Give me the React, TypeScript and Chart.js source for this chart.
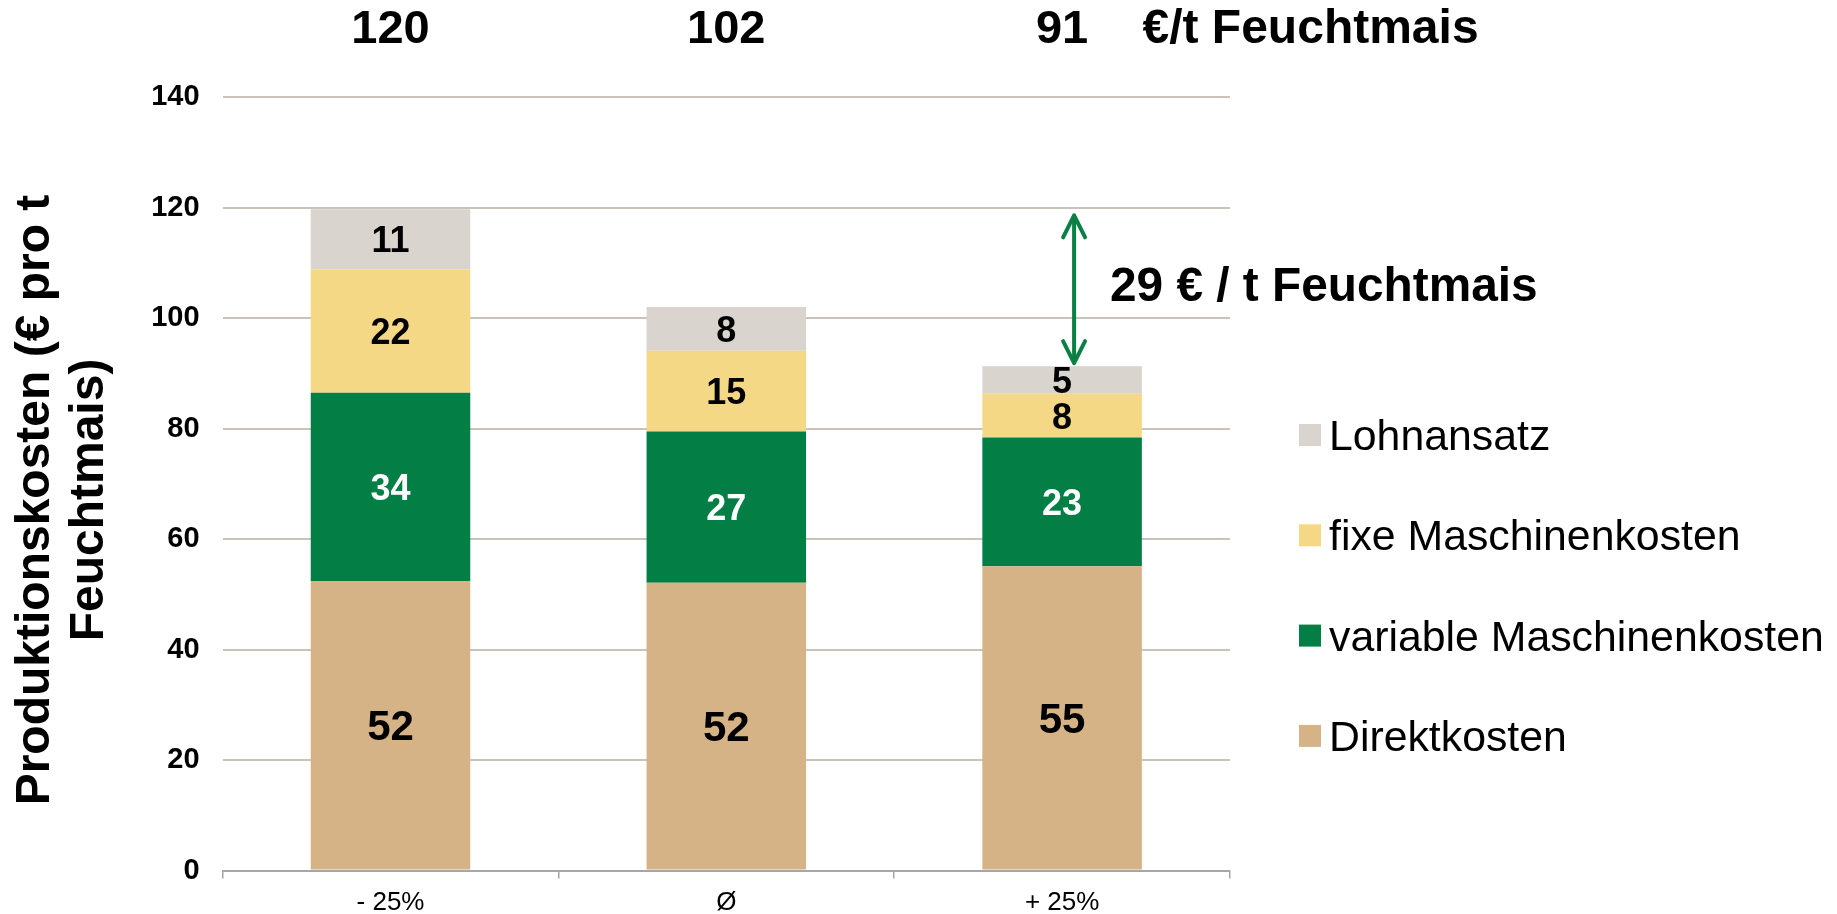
import React, { useEffect, useRef } from "react";
import { Chart, registerables } from "chart.js";

Chart.register(...registerables);

// ---------- data ----------
const categories = ["- 25%", "Ø", "+ 25%"];
const direktkosten = [52.4, 52.1, 55.1];
const variableMaschinenkosten = [34.1, 27.4, 23.3];
const fixeMaschinenkosten = [22.3, 14.6, 7.9];
const lohnansatz = [10.9, 7.9, 5.0];

const direktLabels = ["52", "52", "55"];
const variableLabels = ["34", "27", "23"];
const fixeLabels = ["22", "15", "8"];
const lohnLabels = ["11", "8", "5"];

const totalLabels = ["120", "102", "91"];
const unitLabel = "€/t Feuchtmais";
const differenceLabel = "29 € / t Feuchtmais";
const yTitle = ["Produktionskosten (€ pro t", "Feuchtmais)"];
const yMin = 0;
const yMax = 140;
const yStep = 20;

// ---------- styles ----------
const FONT = '"Liberation Sans", Arial, Helvetica, sans-serif';
const COLORS = {
  direkt: "#D5B387",
  variable: "#037F46",
  fixe: "#F5D886",
  lohn: "#D9D4CD",
  grid: "#CBC2B8",
  axis: "#A6A6A6",
  arrow: "#0B8045",
};
const W = 1821;
const H = 906;

const overlayPlugin = {
  id: "overlay",
  afterDatasetsDraw(chart: any) {
    const ctx = chart.ctx;
    ctx.save();
    // segment labels
    chart.data.datasets.forEach((ds: any, di: number) => {
      const meta = chart.getDatasetMeta(di);
      meta.data.forEach((el: any, i: number) => {
        const p = el.getProps(["x", "y", "base"], true);
        const size = ds.labelSize;
        ctx.font = `bold ${size}px ${FONT}`;
        ctx.fillStyle = ds.labelColor;
        ctx.textAlign = "center";
        ctx.textBaseline = "alphabetic";
        ctx.fillText(ds.valueLabels[i], p.x, (p.y + p.base) / 2 + size * 0.358);
      });
    });

    // totals above the bars
    const topMeta = chart.getDatasetMeta(chart.data.datasets.length - 1);
    ctx.font = `bold 47px ${FONT}`;
    ctx.fillStyle = "#000";
    ctx.textAlign = "center";
    ctx.textBaseline = "alphabetic";
    topMeta.data.forEach((el: any, i: number) => {
      ctx.fillText(totalLabels[i], el.x, 34.5);
    });
    ctx.font = `bold 48px ${FONT}`;
    ctx.textAlign = "left";
    ctx.fillText(unitLabel, 1134.5, 34.5);

    // difference arrow between first and last totals
    const yScale = chart.scales.y;
    const sumAt = (i: number) =>
      chart.data.datasets.reduce((s: number, d: any) => s + d.data[i], 0);
    const last = topMeta.data.length - 1;
    const ax = topMeta.data[last].x + 12;
    const yTop = yScale.getPixelForValue(sumAt(0)) + 6;
    const yBot = yScale.getPixelForValue(sumAt(last)) - 3;
    ctx.strokeStyle = COLORS.arrow;
    ctx.lineWidth = 4;
    ctx.lineCap = "round";
    ctx.lineJoin = "round";
    ctx.beginPath();
    ctx.moveTo(ax, yTop + 2);
    ctx.lineTo(ax, yBot - 2);
    ctx.stroke();
    ctx.beginPath();
    ctx.moveTo(ax - 11, yTop + 22);
    ctx.lineTo(ax, yTop);
    ctx.lineTo(ax + 11, yTop + 22);
    ctx.moveTo(ax - 11, yBot - 22);
    ctx.lineTo(ax, yBot);
    ctx.lineTo(ax + 11, yBot - 22);
    ctx.stroke();

    ctx.font = `bold 47.8px ${FONT}`;
    ctx.fillStyle = "#000";
    ctx.textAlign = "left";
    ctx.fillText(differenceLabel, 1102, 292.7);

    // legend (reversed order)
    const dsRev = [...chart.data.datasets].reverse();
    ctx.font = `42.8px ${FONT}`;
    dsRev.forEach((d: any, i: number) => {
      const cy = 427 + i * 100.3;
      ctx.fillStyle = d.backgroundColor;
      ctx.fillRect(1291, cy - 11, 22, 22);
      ctx.fillStyle = "#000";
      ctx.fillText(d.label, 1321, cy + 15);
    });

    // y-axis title
    ctx.font = `bold 48px ${FONT}`;
    ctx.textAlign = "center";
    const cyTitle = 492;
    const xs = [41, 95];
    yTitle.forEach((line, i) => {
      ctx.save();
      ctx.translate(xs[i], cyTitle);
      ctx.rotate(-Math.PI / 2);
      ctx.fillText(line, 0, 0);
      ctx.restore();
    });
    ctx.restore();
  },
};

export default function App() {
  const ref = useRef<HTMLCanvasElement | null>(null);

  useEffect(() => {
    document.body.style.overflow = "hidden";
    const canvas = ref.current;
    if (!canvas) return;
    const mk = (label: string, data: number[], color: string, labels: string[], labelColor: string, labelSize: number) => ({
      label,
      data,
      backgroundColor: color,
      borderWidth: 0,
      barPercentage: 0.475,
      categoryPercentage: 1,
      valueLabels: labels,
      labelColor,
      labelSize,
    });
    const chart = new Chart(canvas, {
      type: "bar",
      data: {
        labels: categories,
        datasets: [
          mk("Direktkosten", direktkosten, COLORS.direkt, direktLabels, "#000", 42),
          mk("variable Maschinenkosten", variableMaschinenkosten, COLORS.variable, variableLabels, "#fff", 36),
          mk("fixe Maschinenkosten", fixeMaschinenkosten, COLORS.fixe, fixeLabels, "#000", 36),
          mk("Lohnansatz", lohnansatz, COLORS.lohn, lohnLabels, "#000", 36),
        ] as any,
      },
      options: {
        responsive: false,
        animation: false,
        layout: { padding: { top: 89.2, right: W - 1222, left: 0, bottom: 0 } },
        plugins: { legend: { display: false }, tooltip: { enabled: false }, title: { display: false } },
        scales: {
          x: {
            stacked: true,
            grid: {
              offset: true,
              drawOnChartArea: false,
              drawTicks: true,
              tickLength: 8,
              color: COLORS.axis,
              lineWidth: 1.5,
            },
            border: { display: true, color: COLORS.axis, width: 2 },
            ticks: { color: "#000", font: { family: FONT, size: 26 }, padding: 9 },
            afterFit: (s: any) => {
              s.height = H - 862.5;
            },
          },
          y: {
            stacked: true,
            min: yMin,
            max: yMax,
            ticks: {
              stepSize: yStep,
              color: "#000",
              font: { family: FONT, size: 29, weight: "bold" },
              padding: 23,
            },
            grid: { color: COLORS.grid, lineWidth: 2, drawTicks: false },
            border: { display: false },
            afterFit: (s: any) => {
              s.width = 214.6;
            },
          },
        },
      } as any,
      plugins: [overlayPlugin],
    });
    return () => chart.destroy();
  }, []);

  return (
    <div style={{ width: W, height: H }}>
      <canvas ref={ref} width={W} height={H} style={{ display: "block", width: W, height: H }} />
    </div>
  );
}
